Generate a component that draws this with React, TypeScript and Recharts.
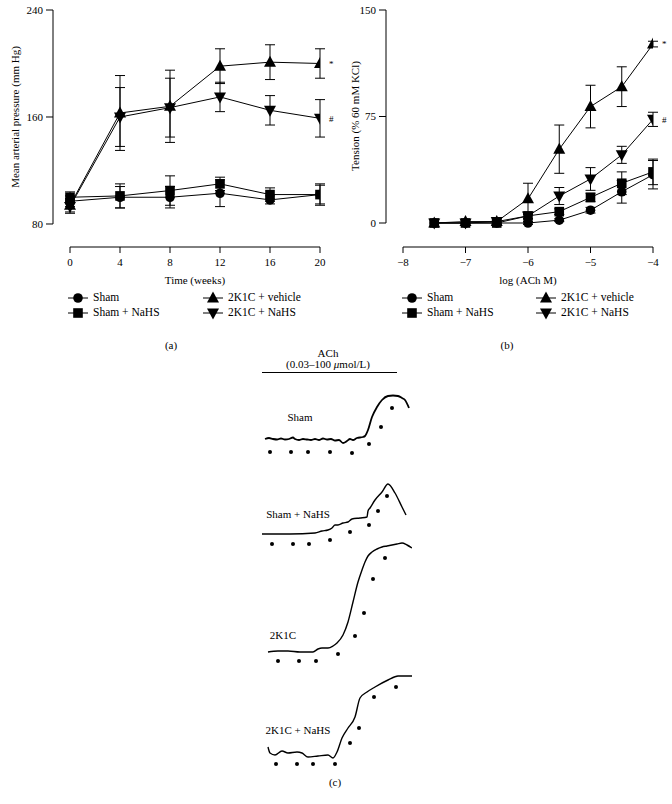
import React from "react";
import {
  ComposedChart, Line, Scatter, XAxis, YAxis, ErrorBar, ReferenceLine, ReferenceDot,
} from "recharts";

const FONT = '"Liberation Serif", "Times New Roman", serif';

// (a) mean arterial pressure over 20 weeks
const weeks = [0, 4, 8, 12, 16, 20];
const mapSham = [97, 100, 100, 103, 98, 102];
const mapShamErr = [4, 8, 8, 10, 3, 7];
const mapShamNaHS = [100, 101, 105, 110, 102, 102];
const mapShamNaHSErr = [4, 9, 11, 5, 5, 8];
const mapVehicle = [94, 163, 168, 198, 201, 200];
const mapVehicleErr = [5, 28, 27, 13, 13, 11];
const map2K1CNaHS = [93, 160, 167, 175, 165, 159];
const map2K1CNaHSErr = [5, 22, 22, 11, 11, 14];
const weekTicks = [0, 4, 8, 12, 16, 20];
const mapTicks = [80, 160, 240];

// (b) ACh relaxation curves
const logACh = [-7.5, -7, -6.5, -6, -5.5, -5, -4.5, -4];
const tenSham = [0, 0, 0, 0, 2, 9, 22, 34];
const tenShamErr = [0, 0, 0, 1, 1, 2, 8, 10];
const tenShamNaHS = [0, 0, 0, 5, 8, 18, 28, 36];
const tenShamNaHSErr = [0, 0, 1, 2, 2, 3, 8, 9];
const tenVehicle = [0, 1, 1, 17, 52, 82, 96, 126];
const tenVehicleErr = [0, 1, 2, 11, 17, 15, 14, 2];
const ten2K1CNaHS = [0, 0, 1, 5, 19, 31, 48, 73];
const ten2K1CNaHSErr = [0, 0, 1, 2, 6, 8, 6, 5];
const achTicks = [-8, -7, -6, -5, -4];
const tensionTicks = [0, 75, 150];

// (c) representative traces, time (arbitrary) vs tension (arbitrary)
const traceSham = [
  [3, 21], [7, 22], [11, 21], [15, 20.5], [19, 21.5], [23, 20.5], [27, 21], [31, 22.5], [33, 21],
  [37, 20], [41, 21], [45, 20.5], [49, 20], [53, 21], [57, 20], [61, 21.5], [65, 20.5], [69, 21],
  [73, 19.5], [77, 20], [81, 17], [85, 19], [88, 21], [91, 20], [95, 22], [101, 23], [103, 24],
  [106, 30], [110, 43], [115, 53], [120, 60], [126, 64], [131, 64.5], [136, 64], [140, 62],
  [143, 60], [147, 52],
];
const marksSham = [[8, 8], [29, 8], [46, 8], [68, 8], [90, 7], [107, 16], [119, 33], [130, 52]];

const traceShamNaHS = [
  [0, 16], [28, 16], [53, 17], [60, 19], [66, 20], [70, 22], [73, 25], [76, 25], [81, 27], [86, 28],
  [90, 31], [98, 32], [105, 33], [106, 39], [108, 42], [113, 50], [120, 58], [126, 66], [133, 57],
  [140, 43], [144, 35],
];
const marksShamNaHS = [[10, 6], [31, 6], [47, 6], [68, 10], [88, 18], [107, 25], [116, 39], [125, 54]];

const trace2K1C = [
  [6, 18], [16, 19], [26, 19], [38, 18], [51, 18], [56, 21], [60, 22], [66, 22], [71, 24], [75, 27],
  [81, 35], [86, 48], [91, 68], [96, 88], [100, 100], [103, 108], [106, 114], [110, 118], [115, 121],
  [120, 123], [125, 124], [130, 125], [135, 126], [140, 127], [145, 125], [150, 122],
];
const marks2K1C = [[16, 9], [37, 9], [54, 9], [76, 16], [93, 34], [102, 57], [111, 91], [123, 112]];

const trace2K1CNaHS = [
  [6, 28], [8, 22], [13, 20], [20, 24], [26, 22], [35, 23], [40, 22], [46, 18], [56, 19], [66, 20],
  [71, 17], [75, 23], [80, 37], [86, 47], [93, 58], [98, 77], [105, 83], [113, 88], [126, 95],
  [136, 99], [150, 99],
];
const marks2K1CNaHS = [[14, 11], [35, 11], [51, 11], [73, 11], [88, 32], [97, 47], [112, 78], [134, 88]];

type Shape = "circle" | "square" | "up" | "down";

const groups: { key: string; name: string; shape: Shape }[] = [
  { key: "sham", name: "Sham", shape: "circle" },
  { key: "shamNaHS", name: "Sham + NaHS", shape: "square" },
  { key: "vehicle", name: "2K1C + vehicle", shape: "up" },
  { key: "nahs", name: "2K1C + NaHS", shape: "down" },
];

const mapRows = weeks.map((w, i) => ({
  x: w,
  sham: mapSham[i], shamErr: mapShamErr[i],
  shamNaHS: mapShamNaHS[i], shamNaHSErr: mapShamNaHSErr[i],
  vehicle: mapVehicle[i], vehicleErr: mapVehicleErr[i],
  nahs: map2K1CNaHS[i], nahsErr: map2K1CNaHSErr[i],
}));

const achRows = logACh.map((c, i) => ({
  x: c,
  sham: tenSham[i], shamErr: tenShamErr[i],
  shamNaHS: tenShamNaHS[i], shamNaHSErr: tenShamNaHSErr[i],
  vehicle: tenVehicle[i], vehicleErr: tenVehicleErr[i],
  nahs: ten2K1CNaHS[i], nahsErr: ten2K1CNaHSErr[i],
}));

function Marker({ shape, cx, cy }: { shape: Shape; cx?: number; cy?: number }) {
  if (cx == null || cy == null) return null;
  if (shape === "circle") return <circle cx={cx} cy={cy} r={4.8} fill="#000" />;
  if (shape === "square") return <rect x={cx - 4.8} y={cy - 4.8} width={9.6} height={9.6} fill="#000" />;
  if (shape === "up")
    return <polygon points={`${cx},${cy - 6.5} ${cx + 6},${cy + 4.5} ${cx - 6},${cy + 4.5}`} fill="#000" />;
  return <polygon points={`${cx},${cy + 6.5} ${cx + 6},${cy - 4.5} ${cx - 6},${cy - 4.5}`} fill="#000" />;
}

function Txt({ x, y, size = 11, children, style }: any) {
  return (
    <div
      style={{
        position: "absolute", left: x, top: y, transform: "translate(-50%, -50%)",
        fontSize: size, lineHeight: 1, whiteSpace: "nowrap", color: "#000", ...style,
      }}
    >
      {children}
    </div>
  );
}

function LegendBlock({ left, top, colGap }: { left: number; top: number; colGap: number }) {
  return (
    <>
      {groups.map((g, i) => {
        const col = i < 2 ? 0 : 1;
        const row = i % 2;
        return (
          <div
            key={g.key}
            style={{
              position: "absolute", left: left + col * colGap, top: top + row * 15,
              display: "flex", alignItems: "center", fontSize: 11.5, lineHeight: 1, whiteSpace: "nowrap",
            }}
          >
            <svg width={20} height={14} style={{ marginRight: 5 }}>
              <line x1={0} y1={7} x2={20} y2={7} stroke="#000" strokeWidth={1} />
              <Marker shape={g.shape} cx={10} cy={7} />
            </svg>
            <span>{g.name}</span>
          </div>
        );
      })}
    </>
  );
}

const minus = (v: number) => (v < 0 ? `\u2212${Math.abs(v)}` : `${v}`);

function DataPanel({
  left, rows, xDomain, xTicks, yDomain, yTicks, yAxisWidth, marginRight, xFmt, marks,
}: any) {
  const tick = { fill: "#000", fontSize: 11, fontFamily: FONT };
  return (
    <div style={{ position: "absolute", left, top: 0 }}>
      <ComposedChart width={336} height={285} data={rows}
        margin={{ top: 10, right: marginRight, bottom: 8, left: 0 }}>
        <XAxis type="number" dataKey="x" domain={xDomain} ticks={xTicks} allowDataOverflow
          axisLine={false} tickLine={{ stroke: "#000" }} tickSize={6} tickMargin={5}
          tick={tick} tickFormatter={xFmt} height={30} />
        <YAxis type="number" domain={yDomain} ticks={yTicks} allowDataOverflow
          axisLine={false} tickLine={{ stroke: "#000" }} tickSize={7} tickMargin={3}
          tick={tick} width={yAxisWidth} />
        <ReferenceLine ifOverflow="visible" stroke="#000"
          segment={[{ x: xTicks[0], y: yDomain[0] }, { x: xTicks[xTicks.length - 1], y: yDomain[0] }]} />
        <ReferenceLine ifOverflow="visible" stroke="#000"
          segment={[{ x: xDomain[0], y: yTicks[0] }, { x: xDomain[0], y: yTicks[yTicks.length - 1] }]} />
        {groups.map((g) => (
          <Line key={g.key} dataKey={g.key} stroke="#000" strokeWidth={1} isAnimationActive={false}
            dot={(p: any) => <Marker key={`${g.key}-${p.index}`} shape={g.shape} cx={p.cx} cy={p.cy} />}
            activeDot={false}>
            <ErrorBar dataKey={`${g.key}Err`} width={5} stroke="#000" strokeWidth={1} direction="y" />
          </Line>
        ))}
        {marks.map((m: any) => (
          <ReferenceDot key={m.label} x={m.x} y={m.y} r={0} stroke="none" ifOverflow="visible"
            label={{ value: m.label, position: "right", offset: 9, fontSize: 9, fill: "#000", fontFamily: FONT }} />
        ))}
      </ComposedChart>
    </div>
  );
}

function TracePanel({ top, height, trace, marks, weight = 1.4 }: any) {
  const line = trace.map(([t, v]: number[]) => ({ t, v }));
  const dots = marks.map(([t, v]: number[]) => ({ t, v }));
  return (
    <div style={{ position: "absolute", left: 262, top }}>
      <ComposedChart width={152} height={height} margin={{ top: 0, right: 2, bottom: 0, left: 0 }}>
        <XAxis type="number" dataKey="t" domain={[0, 150]} hide allowDataOverflow />
        <YAxis type="number" domain={[0, height]} hide allowDataOverflow />
        <Line data={line} dataKey="v" stroke="#000" strokeWidth={weight} dot={false}
          activeDot={false} isAnimationActive={false} type="monotone" />
        <Scatter data={dots} dataKey="v" fill="#000" isAnimationActive={false}
          shape={(p: any) => <circle cx={p.cx} cy={p.cy} r={2} fill="#000" />} />
      </ComposedChart>
    </div>
  );
}

export default function App() {
  return (
    <div style={{ position: "absolute", left: 0, top: 0, width: 672, height: 804, background: "#fff", fontFamily: FONT, overflow: "hidden" }}>
      <DataPanel left={0} rows={mapRows} xDomain={[-1.36, 20]} xTicks={weekTicks}
        yDomain={[62.8, 240]} yTicks={mapTicks} yAxisWidth={53} marginRight={16} xFmt={(v: number) => `${v}`}
        marks={[{ x: 20, y: mapVehicle[5], label: "*" }, { x: 20, y: map2K1CNaHS[5], label: "#" }]} />
      <DataPanel left={336} rows={achRows} xDomain={[-8.272, -4]} xTicks={achTicks}
        yDomain={[-16.9, 150]} yTicks={tensionTicks} yAxisWidth={50} marginRight={19} xFmt={minus}
        marks={[{ x: -4, y: tenVehicle[7], label: "*" }, { x: -4, y: ten2K1CNaHS[7], label: "#" }]} />

      <Txt x={15} y={117} style={{ transform: "translate(-50%, -50%) rotate(-90deg)" }}>Mean arterial pressure (mm Hg)</Txt>
      <Txt x={195} y={280}>Time (weeks)</Txt>
      <Txt x={355} y={116} style={{ transform: "translate(-50%, -50%) rotate(-90deg)" }}>Tension (% 60 mM KCl)</Txt>
      <Txt x={528} y={280}>log (ACh M)</Txt>

      <LegendBlock left={68} top={291} colGap={135} />
      <LegendBlock left={402} top={291} colGap={134} />

      <Txt x={171} y={345}>(a)</Txt>
      <Txt x={507} y={345}>(b)</Txt>

      <Txt x={328} y={353}>ACh</Txt>
      <Txt x={328} y={364}>(0.03–100 <i>μ</i>mol/L)</Txt>
      <div style={{ position: "absolute", left: 262, top: 372, width: 135, height: 1, background: "#000" }} />

      <TracePanel top={385} height={75} trace={traceSham} marks={marksSham} weight={1.8} />
      <TracePanel top={475} height={75} trace={traceShamNaHS} marks={marksShamNaHS} />
      <TracePanel top={535} height={135} trace={trace2K1C} marks={marks2K1C} />
      <TracePanel top={665} height={110} trace={trace2K1CNaHS} marks={marks2K1CNaHS} />

      <Txt x={300} y={417}>Sham</Txt>
      <Txt x={298} y={514}>Sham + NaHS</Txt>
      <Txt x={283} y={635}>2K1C</Txt>
      <Txt x={298} y={730}>2K1C + NaHS</Txt>
      <Txt x={335} y={782}>(c)</Txt>
    </div>
  );
}
